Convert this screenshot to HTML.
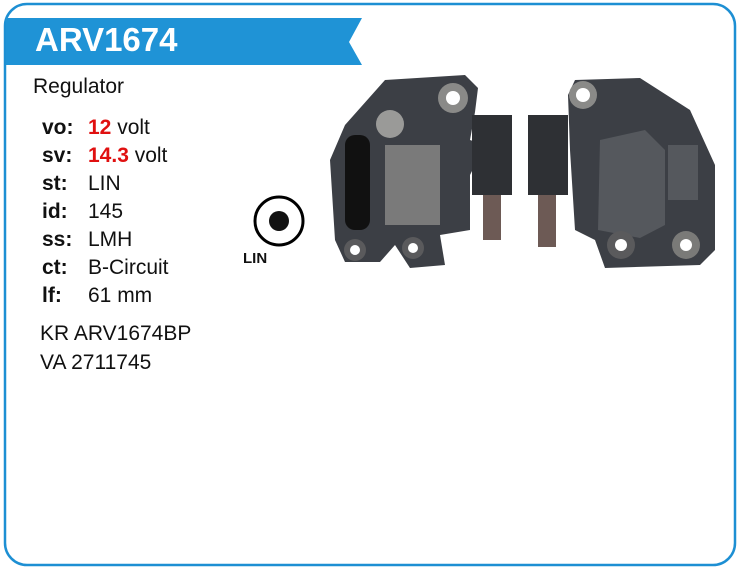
<!DOCTYPE html>
<html><head><style>
body{margin:0;width:740px;height:576px;background:#fff;position:relative;overflow:hidden;font-family:"Liberation Sans",Arial,sans-serif}
.t{position:absolute;font-size:21px;color:#111;white-space:nowrap}
.b{font-weight:bold}
.r{color:#e01010;font-weight:bold}
</style></head><body>
<svg width="740" height="576" style="position:absolute;left:0;top:0">
<rect x="5" y="4" width="730" height="561" rx="22" fill="none" stroke="#1d8fd3" stroke-width="2.5"/>
<polygon points="6,18 362,18 349,42 362,65 6,65" fill="#1f93d6"/>
<circle cx="279" cy="221" r="24" fill="#fff" stroke="#000" stroke-width="3"/>
<circle cx="279" cy="221" r="10" fill="#111"/>
<path d="M385,80 L465,75 L478,88 L475,112 L470,140 L485,145 L470,175 L470,230 L440,235 L445,265 L410,268 L395,245 L380,262 L345,262 L335,240 L330,160 L345,125 Z" fill="#3c3f45"/>
<circle cx="453" cy="98" r="15" fill="#8a8a88"/><circle cx="453" cy="98" r="7" fill="#fff"/>
<circle cx="390" cy="124" r="14" fill="#9a9a98"/>
<rect x="385" y="145" width="55" height="80" fill="#7a7a7a"/>
<rect x="345" y="135" width="25" height="95" rx="10" fill="#111"/>
<circle cx="355" cy="250" r="11" fill="#5a5a5c"/><circle cx="355" cy="250" r="5" fill="#fff"/>
<circle cx="413" cy="248" r="11" fill="#5a5a5c"/><circle cx="413" cy="248" r="5" fill="#fff"/>
<rect x="472" y="115" width="40" height="80" fill="#2e3034"/>
<rect x="483" y="195" width="18" height="45" fill="#6d5a55"/>
<rect x="528" y="115" width="40" height="80" fill="#2e3034"/>
<rect x="538" y="195" width="18" height="52" fill="#6d5a55"/>
<path d="M575,80 L640,78 L690,110 L715,165 L715,250 L700,265 L605,268 L595,240 L575,230 L570,150 L568,95 Z" fill="#3c3f45"/>
<circle cx="583" cy="95" r="14" fill="#8a8a88"/><circle cx="583" cy="95" r="7" fill="#fff"/>
<polygon points="600,140 645,130 665,150 665,225 640,238 598,230" fill="#55585d"/>
<rect x="668" y="145" width="30" height="55" fill="#55585d"/>
<circle cx="621" cy="245" r="14" fill="#5a5a5c"/><circle cx="621" cy="245" r="6" fill="#fff"/>
<circle cx="686" cy="245" r="14" fill="#7a7a78"/><circle cx="686" cy="245" r="6" fill="#fff"/>
</svg>
<div class="t b" style="left:35px;top:21px;font-size:33px;color:#fff">ARV1674</div>
<div class="t" style="left:33px;top:75px">Regulator</div>
<div class="t b" style="left:42px;top:116px">vo:</div><div class="t" style="left:88px;top:116px"><span class="r">12</span> volt</div>
<div class="t b" style="left:42px;top:144px">sv:</div><div class="t" style="left:88px;top:144px"><span class="r">14.3</span> volt</div>
<div class="t b" style="left:42px;top:172px">st:</div><div class="t" style="left:88px;top:172px">LIN</div>
<div class="t b" style="left:42px;top:200px">id:</div><div class="t" style="left:88px;top:200px">145</div>
<div class="t b" style="left:42px;top:228px">ss:</div><div class="t" style="left:88px;top:228px">LMH</div>
<div class="t b" style="left:42px;top:256px">ct:</div><div class="t" style="left:88px;top:256px">B-Circuit</div>
<div class="t b" style="left:42px;top:284px">lf:</div><div class="t" style="left:88px;top:284px">61 mm</div>
<div class="t" style="left:40px;top:322px">KR ARV1674BP</div>
<div class="t" style="left:40px;top:351px">VA 2711745</div>
<div class="t b" style="left:243px;top:250px;font-size:15px">LIN</div>
</body></html>
